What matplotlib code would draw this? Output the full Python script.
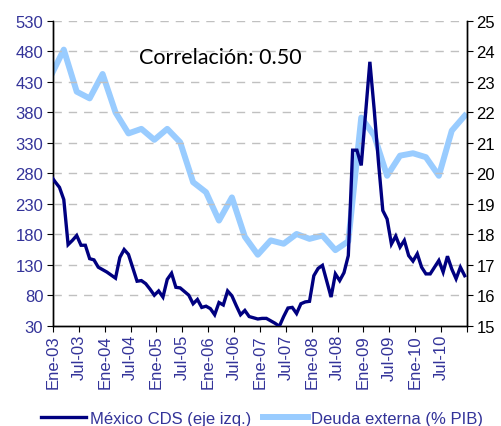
import numpy as np
import matplotlib
matplotlib.use('Agg')
import matplotlib.pyplot as plt

plt.rcParams['font.family'] = ['Liberation Sans', 'DejaVu Sans']

# monthly CDS (left axis), points placed at month - 0.5 starting Dec-02 end
cds = [276, 266, 257, 237, 163, 170, 178, 162, 162, 140, 138, 126, 122, 118, 113, 108,
       142, 155, 147, 125, 103, 104, 99, 90, 80, 87, 77, 106, 116, 93, 92, 86,
       80, 66, 73, 60, 62, 58, 48, 68, 64, 87, 79, 63, 48, 55, 45, 43,
       41, 42, 42, 38, 34, 29, 45, 59, 60, 50, 66, 69, 70, 112, 124, 129,
       103, 77, 115, 104, 117, 145, 318, 318, 293, 378, 463, 385, 298, 219, 205, 164,
       177, 159, 170, 145, 136, 148, 126, 115, 115, 126, 137, 118, 144, 123, 107, 126, 112]
# quarterly external debt, % of GDP (right axis)
deuda = [23.2, 24.06, 22.68, 22.46, 23.26, 22.0, 21.31, 21.46, 21.10, 21.46, 21.02,
         19.71, 19.38, 18.45, 19.21, 17.92, 17.33, 17.8, 17.69, 18.01, 17.85, 17.96,
         17.48, 17.77, 21.83, 21.24, 19.92, 20.58, 20.66, 20.53, 19.92, 21.40, 21.89]
tick_labels = ['Ene-03', 'Jul-03', 'Ene-04', 'Jul-04', 'Ene-05', 'Jul-05', 'Ene-06', 'Jul-06',
               'Ene-07', 'Jul-07', 'Ene-08', 'Jul-08', 'Ene-09', 'Jul-09', 'Ene-10', 'Jul-10']

x_cds = np.arange(len(cds)) - 0.5
x_deuda = np.arange(len(deuda)) * 3 - 0.5

blue_txt = '#333399'

fig = plt.figure(figsize=(5.02, 4.27), dpi=100)
ax = fig.add_axes([0.1056, 0.2349, 0.8244, 0.7136])
ax2 = ax.twinx()

ax.plot(x_cds, cds, color='#000080', lw=2.4, solid_joinstyle='miter', zorder=3)
ax2.plot(x_deuda, deuda, color='#99CCFF', lw=4.3, solid_joinstyle='round', zorder=2)
ax.set_zorder(ax2.get_zorder() + 1)
ax.patch.set_visible(False)

ax.set_xlim(0, 96)
ax.set_ylim(30, 530)
ax.set_yticks(np.arange(30, 531, 50))
ax2.set_ylim(15, 25)
ax2.set_yticks(np.arange(15, 26, 1))

ax.set_xticks(np.arange(0, 97, 6))
ax.set_xticklabels(tick_labels + [''], rotation=90)
ax.tick_params(axis='x', colors='black', labelcolor=blue_txt, labelsize=12, length=4, pad=2)
ax.tick_params(axis='y', colors='black', labelcolor=blue_txt, labelsize=12, length=4, pad=3)
ax2.tick_params(axis='y', colors='black', labelcolor='black', labelsize=12, length=4, pad=3)

for y in np.arange(80, 531, 50):
    ax.axhline(y, color='#C0C0C0', lw=1, ls=(0, (6, 5)), zorder=0)

for a in (ax, ax2):
    a.spines['top'].set_visible(False)
    for s in ('left', 'right', 'bottom'):
        a.spines[s].set_color('black')
        a.spines[s].set_linewidth(1)

ax.text(0.207, 0.862, 'Correlación: 0.50', transform=ax.transAxes, fontsize=15.5,
        family=['Lato', 'DejaVu Sans'], color='black')

h1, = ax.plot([], [], color='#000080', lw=2.4)
h2, = ax.plot([], [], color='#99CCFF', lw=4.3)
leg = fig.legend([h1, h2], ['México CDS (eje izq.)', 'Deuda externa (% PIB)'],
                 loc='lower center', bbox_to_anchor=(0.522, -0.035), ncol=2, frameon=False,
                 fontsize=12, handlelength=2.7, handletextpad=0.2, columnspacing=0.7)
for t in leg.get_texts():
    t.set_color(blue_txt)

fig.savefig('out.png', dpi=100)
